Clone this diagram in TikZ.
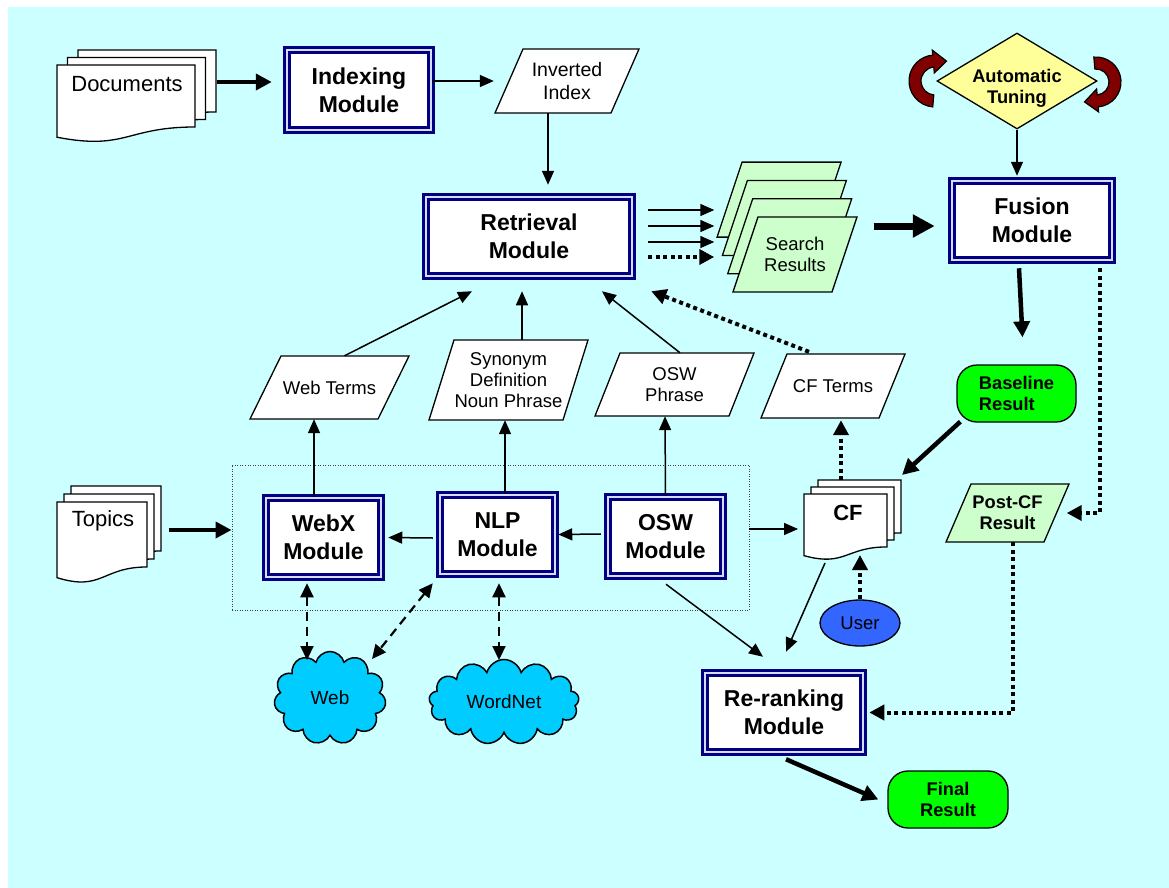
\documentclass[tikz,border=0pt]{standalone}
\usepackage{fontspec}
\setmainfont{Liberation Sans}
\usetikzlibrary{positioning, arrows.meta, shapes.geometric, shapes.symbols}
\usepackage{xcolor}
\definecolor{bgcyan}{RGB}{204,255,255}
\definecolor{navy}{RGB}{0,0,128}
\definecolor{lavender}{RGB}{215,220,255}
\definecolor{palegreen}{RGB}{204,255,204}
\definecolor{paleyellow}{RGB}{255,255,153}
\definecolor{brightgreen}{RGB}{0,255,0}
\definecolor{darkred}{RGB}{128,0,0}
\definecolor{cloudblue}{RGB}{0,204,255}
\definecolor{userblue}{RGB}{51,102,255}
\tikzset{module/.style={draw=navy, double=lavender, double distance=2.5pt, line width=2.5pt,
           fill=white, align=center, inner sep=0pt, font=\bfseries\fontsize{23}{28}\selectfont},
         io/.style={align=center, inner sep=0pt, font=\fontsize{18.5}{21}\selectfont},
         outcome/.style={rectangle, rounded corners=20pt, draw, fill=brightgreen, line width=1.3pt,
           minimum width=119pt, minimum height=57pt, inner sep=0pt,
           font=\bfseries\fontsize{18.3}{21.5}\selectfont},
         sheet/.style={draw, fill=white, line width=1.3pt},
         spin/.style={draw, fill=darkred, line width=1.2pt},
         link/.style={line width=1.5pt, -{Triangle[length=14pt,width=12pt]}},
         thick link/.style={line width=4.5pt, -{Triangle[length=16pt,width=16pt]}},
         heavy link/.style={line width=7pt, -{Triangle[length=22pt,width=22pt]}},
         dotted link/.style={line width=4pt, dash pattern=on 4pt off 3.5pt,
           -{Triangle[length=15pt,width=15pt]}},
         dashed link/.style={line width=2.2pt, dash pattern=on 9pt off 6pt,
           {Triangle[length=14pt,width=13pt]}-{Triangle[length=14pt,width=13pt]}}}
% stack of three pages: x, top, width, height, step x, step y
\newcommand{\docstack}[6]{%
  \foreach \k in {2,1,0}
    \filldraw[sheet, shift={(\k*#5,\k*#6)}] (#1,#2) -- ({#1+#3},#2) -- ({#1+#3},{#2+0.802*#4})
      .. controls ({#1+0.5*#3},{#2+0.802*#4}) and ({#1+0.5*#3},{#2+1.1075*#4}) .. (#1,{#2+0.934*#4}) -- cycle;}
% slanted data box: [options] name, x, y, width, height, slant -- text follows
\newcommand{\iobox}[7][]{%
  \filldraw[sheet, #1] ({#3-#5/2},{#4+#6/2}) -- ({#3+#5/2-#7},{#4+#6/2})
    -- ({#3+#5/2},{#4-#6/2}) -- ({#3-#5/2+#7},{#4-#6/2}) -- cycle;
  \node[io, #1, fill=none, draw=none, minimum width={#5-#7}, minimum height=#6] (#2) at (#3,#4)}

\begin{document}
\begin{tikzpicture}[x=1pt, y=-1pt]
        \useasboundingbox (0,0) rectangle (1169,888);
        \fill[bgcyan] (8,7) rectangle (1169,888);

        % Nodes
        \node[draw=black!75, dash pattern=on 1pt off 1.5pt, line width=1pt,
              minimum width=517pt, minimum height=145pt] (frame) at (490.5,537.5) {};
        \docstack{57}{65}{138}{77.3}{10.5}{-7.5}
        \node[font=\fontsize{22}{26}\selectfont] (docs) at (127,84) {Documents};
        \docstack{57}{502}{90}{81}{7}{-8}
        \node[font=\fontsize{22}{26}\selectfont] (topics) at (103,521) {Topics};
        \docstack{804}{494}{83}{66}{7}{-7}
        \node[font=\bfseries\fontsize{22}{26}\selectfont] (cf) at (848,513) {CF};

        \node[module, minimum width=144pt, minimum height=80pt] (indexing) at (359,90) {Indexing\\Module};
        \node[module, minimum width=206pt, minimum height=79pt] (retrieval) at (529,236.5) {Retrieval\\Module};
        \node[module, minimum width=160pt, minimum height=79pt] (fusion) at (1032,220.5) {Fusion\\Module};
        \node[module, minimum width=115pt, minimum height=79pt] (webx) at (323.5,537.5) {WebX\\Module};
        \node[module, minimum width=115pt, minimum height=79pt] (nlp) at (497.5,534.5) {NLP\\Module};
        \node[module, minimum width=115pt, minimum height=79pt] (osw) at (665.5,536.5) {OSW\\Module};
        \node[module, minimum width=158pt, minimum height=79pt] (rerank) at (784,712.5) {Re-ranking\\Module};

        \iobox[font=\fontsize{19.5}{23}\selectfont]{inverted}{567}{81}{144}{64}{28} {Inverted\\Index};
        \foreach \k in {3,2,1}
          \iobox[fill=palegreen]{sr\k}{795-5.3*\k}{254.5-18.3*\k}{124}{75}{25} {};
        \iobox[fill=palegreen]{sr}{795}{254.5}{124}{75}{25} {Search\\Results};
        \iobox{webterms}{329.5}{387.5}{159}{63}{31} {Web Terms};
        \iobox{synonym}{508.5}{380}{159}{80}{25} {Synonym\\Definition\\Noun Phrase};
        \iobox{oswphrase}{674.5}{384.5}{159}{63}{25} {OSW\\Phrase};
        \iobox{cfterms}{833}{386}{144}{64}{26} {CF Terms};
        \iobox[fill=palegreen, font=\bfseries\fontsize{18.3}{21}\selectfont]{postcf}{1007.5}{513}{123}{58}{25} {Post-CF\\Result};

        \node[diamond, aspect=1.667, draw, fill=paleyellow, line width=1.3pt, minimum width=160pt,
              minimum height=96pt, inner sep=0pt, align=center,
              font=\bfseries\fontsize{18.3}{21}\selectfont] (tuning) at (1017,81)
              {\rule{0pt}{28pt}\makebox[0pt]{Automatic}\\\makebox[0pt]{Tuning}};
        \node[outcome, align=left] (baseline) at (1016.5,393.5) {Baseline\\Result};
        \node[outcome, minimum width=120pt, align=center] (final) at (948,799.5) {Final\\Result};
        \node[ellipse, draw, fill=userblue, line width=1.3pt, minimum width=80pt, minimum height=46pt,
              inner sep=0pt, font=\fontsize{18.5}{21}\selectfont] (user) at (860,623) {User};
        \node[cloud, cloud puffs=11, cloud ignores aspect, draw, fill=cloudblue, line width=1.5pt,
              minimum width=112pt, minimum height=93pt, inner sep=0pt,
              font=\fontsize{19}{22}\selectfont] (web) at (330,698) {Web};
        \node[cloud, cloud puffs=13, cloud ignores aspect, draw, fill=cloudblue, line width=1.5pt,
              minimum width=150pt, minimum height=85pt, inner sep=0pt,
              font=\fontsize{19}{22}\selectfont] (wordnet) at (504,702) {WordNet};

        % Tuning loops
        \filldraw[spin] ([shift={(935,81)}]95:26) arc[start angle=95, end angle=265, radius=26]
            -- ([shift={(935,81)}]265:31) -- ([shift={(935,81)}]300:23) -- ([shift={(935,81)}]265:8)
            -- ([shift={(935,81)}]265:14) arc[start angle=265, end angle=95, radius=14] -- cycle;
        \filldraw[spin] ([shift={(1096,82)}]-95:25) arc[start angle=-95, end angle=85, radius=25]
            -- ([shift={(1096,82)}]85:30) -- ([shift={(1096,82)}]120:23) -- ([shift={(1096,82)}]85:7)
            -- ([shift={(1096,82)}]85:13) arc[start angle=85, end angle=-95, radius=13] -- cycle;

        % Edges
        \draw[thick link] ([shift={(90,-2)}]docs.center) -- ([shift={(-14,-8)}]indexing.west);
        \draw[link] ([shift={(0,-9)}]indexing.east) -- ([xshift=-15pt]inverted.west);
        \draw[link] ([xshift=-19pt]inverted.south) -- ([shift={(19,-11)}]retrieval.north);
        \foreach \dy in {-26.5,-10.5,5.5}
          \draw[link] ([shift={(15,\dy)}]retrieval.east) -- ([shift={(81,\dy)}]retrieval.east);
        \draw[dotted link] ([shift={(15,20.5)}]retrieval.east) -- ([shift={(81,20.5)}]retrieval.east);
        \draw[heavy link] ([shift={(29,-28.5)}]sr.east) -- ([shift={(-16,5.5)}]fusion.west);
        \draw[link] (tuning.south) -- ([shift={(-15,-4)}]fusion.north);
        \draw[thick link] ([shift={(-13,7)}]fusion.south) -- ([shift={(6,-27)}]baseline.north);
        \draw[dotted link] ([shift={(68,7)}]fusion.south) |- ([xshift=10pt]postcf.east);
        \draw[dotted link] ([xshift=5.5pt]postcf.south) |- ([xshift=5pt]rerank.east);
        \draw[thick link] ([shift={(2,6)}]rerank.south) -- ([xshift=-9pt]final.west);
        \draw[thick link] ([shift={(4,-1)}]baseline.south west) -- ([shift={(54,-38)}]cf.center);
        \draw[dotted link] ([shift={(-7,-33)}]cf.center) -- ([shift={(8,2)}]cfterms.south);
        \draw[dotted link] ([shift={(-24,-2)}]cfterms.north) -- ([shift={(18,14)}]retrieval.south east);
        \draw[dotted link] (user.north) -- ([shift={(12,42)}]cf.center);
        \draw[link] ([shift={(-23,50)}]cf.center) -- ([shift={(2,-20)}]rerank.north);
        \draw[link] ([shift={(0.5,7)}]osw.south) -- ([shift={(-21,-15)}]rerank.north);
        \draw[link] ([shift={(25,-7.5)}]osw.east) -- ([shift={(-50,16)}]cf.center);
        \draw[link] ([shift={(-6,-2.5)}]osw.west) -- ([xshift=2pt]nlp.east);
        \draw[link] ([shift={(-6,3.5)}]nlp.west) -- ([xshift=6pt]webx.east);
        \draw[thick link] ([shift={(66,9)}]topics.center) -- ([shift={(0,-7.5)}]frame.west);
        \draw[link] ([xshift=-9.5pt]webx.north) -- ([xshift=-15.5pt]webterms.south);
        \draw[link] ([xshift=7.5pt]nlp.north) -- ([xshift=-3.5pt]synonym.south);
        \draw[link] (osw.north) -- ([xshift=-9.5pt]oswphrase.south);
        \draw[link] ([xshift=15pt]webterms.north) -- ([shift={(-57,14)}]retrieval.south);
        \draw[link] ([xshift=13.5pt]synonym.north) -- ([shift={(-7,14)}]retrieval.south);
        \draw[link] ([xshift=5.5pt]oswphrase.north) -- ([shift={(73,14)}]retrieval.south);
        \draw[dashed link] ([shift={(-16.5,5)}]webx.south) -- ([shift={(-23,-38)}]web.center);
        \draw[dashed link] ([shift={(-6,8)}]nlp.south west) -- ([shift={(42,-39)}]web.center);
        \draw[dashed link] ([shift={(1.5,8)}]nlp.south) -- ([shift={(-5,-42)}]wordnet.center);
    \end{tikzpicture}
\end{document}
